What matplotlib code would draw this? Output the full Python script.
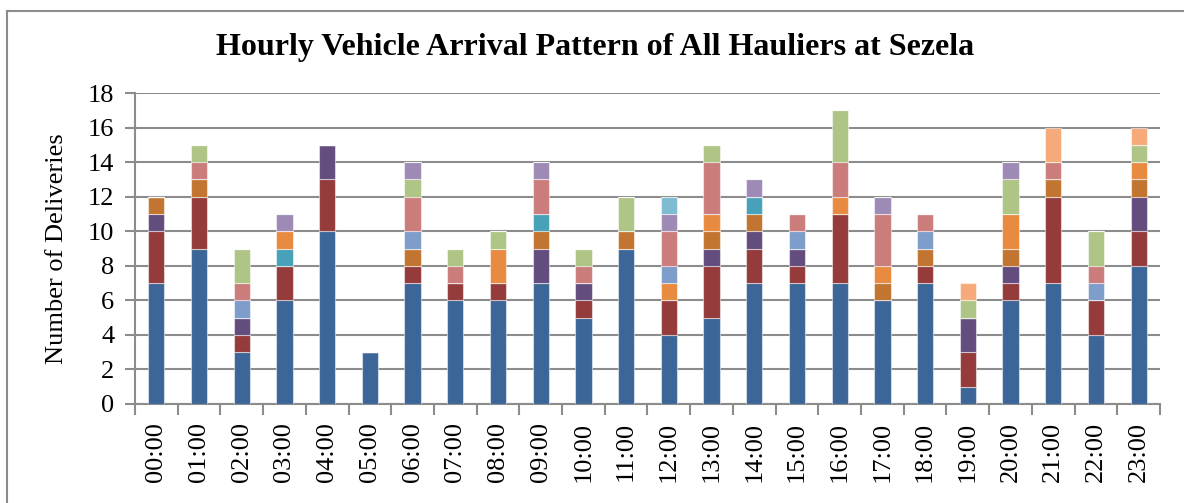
#!/usr/bin/env python3
import matplotlib

matplotlib.use("Agg")
import matplotlib.pyplot as plt
from matplotlib.lines import Line2D
import numpy as np

hours = ["%02d:00" % h for h in range(24)]

# deliveries per haulier (stacking order bottom -> top)
haulier_1 = [7, 9, 3, 6, 10, 3, 7, 6, 6, 7, 5, 9, 4, 5, 7, 7, 7, 6, 7, 1, 6, 7, 4, 8]
haulier_2 = [3, 3, 1, 2, 3, 0, 1, 1, 1, 0, 1, 0, 2, 3, 2, 1, 4, 0, 1, 2, 1, 5, 2, 2]
haulier_3 = [1, 0, 1, 0, 2, 0, 0, 0, 0, 2, 1, 0, 0, 1, 1, 1, 0, 0, 0, 2, 1, 0, 0, 2]
haulier_4 = [1, 1, 0, 0, 0, 0, 1, 0, 0, 1, 0, 1, 0, 1, 1, 0, 0, 1, 1, 0, 1, 1, 0, 1]
haulier_5 = [0, 0, 0, 1, 0, 0, 0, 0, 0, 1, 0, 0, 0, 0, 1, 0, 0, 0, 0, 0, 0, 0, 0, 0]
haulier_6 = [0, 0, 0, 1, 0, 0, 0, 0, 2, 0, 0, 0, 1, 1, 0, 0, 1, 1, 0, 0, 2, 0, 0, 1]
haulier_7 = [0, 0, 1, 0, 0, 0, 1, 0, 0, 0, 0, 0, 1, 0, 0, 1, 0, 0, 1, 0, 0, 0, 1, 0]
haulier_8 = [0, 1, 1, 0, 0, 0, 2, 1, 0, 2, 1, 0, 2, 3, 0, 1, 2, 3, 1, 0, 0, 1, 1, 0]
haulier_9 = [0, 1, 2, 0, 0, 0, 1, 1, 1, 0, 1, 2, 0, 1, 0, 0, 3, 0, 0, 1, 2, 0, 2, 1]
haulier_10 = [0, 0, 0, 1, 0, 0, 1, 0, 0, 1, 0, 0, 1, 0, 1, 0, 0, 1, 0, 0, 1, 0, 0, 0]
haulier_11 = [0, 0, 0, 0, 0, 0, 0, 0, 0, 0, 0, 0, 1, 0, 0, 0, 0, 0, 0, 0, 0, 0, 0, 0]
haulier_12 = [0, 0, 0, 0, 0, 0, 0, 0, 0, 0, 0, 0, 0, 0, 0, 0, 0, 0, 0, 1, 0, 2, 0, 1]

series = [haulier_1, haulier_2, haulier_3, haulier_4, haulier_5, haulier_6,
          haulier_7, haulier_8, haulier_9, haulier_10, haulier_11, haulier_12]
colors = ["#3c6697", "#953b3b", "#634d7f", "#c27531", "#47a1b9", "#e88b40",
          "#7f9dca", "#cb7d7c", "#aec585", "#9e8bb5", "#7fbbd1", "#f7aa79"]

W, H = 1184, 503
GRAY = "#8c8c8c"


def main():
    plt.rcParams["font.family"] = ["Liberation Serif", "DejaVu Serif"]
    fig = plt.figure(figsize=(W / 100, H / 100), dpi=100)
    ax = fig.add_axes([135 / W, 1 - 404 / H, (1160 - 135) / W, (404 - 93) / H])

    x = np.arange(len(hours))
    bottom = np.zeros(len(hours))
    for values, color in zip(series, colors):
        ax.bar(x, values, width=0.38, bottom=bottom, color=color,
               edgecolor=(1, 1, 1, 0.5), linewidth=0.8, zorder=3)
        bottom += np.array(values)

    ax.set_xlim(-0.5, len(hours) - 0.5)
    ax.set_ylim(0, 18)
    ax.set_yticks(range(0, 19, 2))
    ax.set_xticks(x)
    ax.set_xticklabels(hours, rotation=90, fontsize=19)
    ax.set_xticks(np.arange(-0.5, len(hours), 1), minor=True)
    ax.tick_params(axis="x", which="major", length=0, pad=13)
    ax.tick_params(axis="x", which="minor", length=8, width=1.5, color=GRAY, direction="out")
    ax.tick_params(axis="y", labelsize=19, length=7, width=1.5, color=GRAY, direction="out", pad=8)

    ax.yaxis.grid(True, color=GRAY, linewidth=1.5, zorder=0)
    for side in ["top", "right"]:
        ax.spines[side].set_visible(False)
    for side in ["left", "bottom"]:
        ax.spines[side].set_color(GRAY)
        ax.spines[side].set_linewidth(1.5)

    ax.set_ylabel("Number of Deliveries", fontsize=19, labelpad=14)
    fig.text(595 / W, 1 - 47 / H, "Hourly Vehicle Arrival Pattern of All Hauliers at Sezela",
             ha="center", va="center", fontsize=23, fontweight="bold")

    # chart area border (left and top edges visible)
    fig.add_artist(Line2D([7 / W, 7 / W], [0, 1 - 11 / H], transform=fig.transFigure,
                          color=GRAY, linewidth=1.5))
    fig.add_artist(Line2D([7 / W, 1], [1 - 11 / H, 1 - 11 / H], transform=fig.transFigure,
                          color=GRAY, linewidth=1.5))

    fig.savefig("out.png", dpi=100)
    plt.close(fig)


if __name__ == "__main__":
    main()
